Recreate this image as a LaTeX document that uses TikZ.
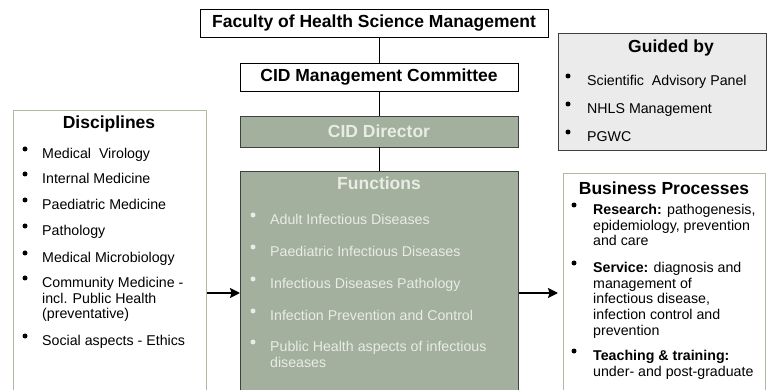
\documentclass[tikz,border=0pt]{standalone}
\usepackage{fontspec}
\setmainfont{Liberation Sans}
\usetikzlibrary{arrows.meta,positioning,shadows}
\definecolor{sagegreen}{RGB}{163,176,157}
\definecolor{sageline}{RGB}{172,186,166}
\definecolor{sagetext}{RGB}{232,236,229}
\definecolor{panelgray}{RGB}{235,235,235}

\begin{document}
\begin{tikzpicture}[
    x=1pt, y=-1pt,
    every node/.style={inner sep=0pt},
    header/.style={rectangle, draw=black, fill=white, line width=0.8pt, minimum width=278, minimum height=28, font=\bfseries\fontsize{17.5}{20}\selectfont},
    sagebox/.style={rectangle, draw=black!75, fill=sagegreen, line width=0.8pt, drop shadow={shadow xshift=1pt, shadow yshift=-1pt, fill=black!45, opacity=1}},
    graybox/.style={rectangle, draw=black!75, fill=panelgray, line width=0.8pt, anchor=north west, drop shadow={shadow xshift=1pt, shadow yshift=-1pt, fill=black!45, opacity=1}},
    panel/.style={rectangle, draw=sageline, fill=white, line width=1.3pt, anchor=north west},
    title/.style={font=\bfseries\fontsize{17.5}{20}\selectfont},
    item/.style={anchor=north west, align=left, font=\fontsize{14.2}{15.7}\selectfont},
    link/.style={line width=0.8pt},
    arrow/.style={line width=1.8pt, -{Stealth[length=10pt, width=10pt, inset=1.5pt]}}
]
\path[use as bounding box, clip] (0,0) rectangle (769,390);

% Management chain
\node[header, minimum width=348] (faculty) at (374,23) {Faculty of Health Science Management};
\node[header] (mgmt_committee) at (379,77) {CID Management Committee};
\node[sagebox, minimum width=278, minimum height=31, text=sagetext, font=\bfseries\fontsize{17.5}{20}\selectfont] (cid_director) at (379,131.5) {CID Director};
\node[sagebox, anchor=north west, minimum width=278, minimum height=240] (functions) at (240,171) {};
\node[title, text=sagetext] (functions_title) at (379,183) {Functions};

% Side panels
\node[panel, minimum width=193, minimum height=300] (disciplines) at (13,110) {};
\node[title] (disciplines_title) at (109,124) {Disciplines};
\node[graybox, minimum width=208, minimum height=117] (guided_by) at (558,33) {};
\node[title] (guided_title) at (671,48) {Guided by};
\node[panel, minimum width=202, minimum height=240] (business) at (563,173) {};
\node[title] (business_title) at (664,188) {Business Processes};

% Lists
\foreach \txt/\yy [count=\i] in {Medical~ Virology/148, Internal Medicine/173, Paediatric Medicine/199, Pathology/225, Medical Microbiology/252, {Community Medicine -\\incl. Public Health\\(preventative)}/277, Social aspects - Ethics/335} {
    \node[item] (disc_\i) at (42,\yy) {\txt};
    \fill (disc_\i.north west) ++(-17,1) circle (2.5);
}
\foreach \txt/\yy [count=\i] in {Adult Infectious Diseases/214, Paediatric Infectious Diseases/246, Infectious Diseases Pathology/278, Infection Prevention and Control/310, {Public Health aspects of infectious\\diseases}/341} {
    \node[item, text=sagetext] (func_\i) at (270,\yy) {\txt};
    \fill[sagetext] (func_\i.north west) ++(-17,1) circle (2.5);
}
\foreach \txt/\yy [count=\i] in {Scientific~ Advisory Panel/75, NHLS Management/103, PGWC/131} {
    \node[item] (guide_\i) at (587,\yy) {\txt};
    \fill (guide_\i.north west) ++(-19,1) circle (2.5);
}
\foreach \txt/\yy [count=\i] in {{\textbf{Research:} pathogenesis,\\epidemiology, prevention\\and care}/204, {\textbf{Service:} diagnosis and\\management of\\infectious disease,\\infection control and\\prevention}/262, {\textbf{Teaching \& training:}\\under- and post-graduate}/350} {
    \node[item] (proc_\i) at (593,\yy) {\txt};
    \fill (proc_\i.north west) ++(-19,1) circle (2.5);
}

% Connections
\draw[link] (mgmt_committee.north) -- (mgmt_committee.north |- faculty.south);
\draw[link] (cid_director.north) -- (mgmt_committee.south);
\draw[link] (functions.north -| cid_director) -- (cid_director.south);
\coordinate (flow) at (0,293);
\draw[arrow] (disciplines.east |- flow) -- (functions.west |- flow);
\draw[arrow, shorten >=5pt] (functions.east |- flow) -- (business.west |- flow);

\end{tikzpicture}
\end{document}
